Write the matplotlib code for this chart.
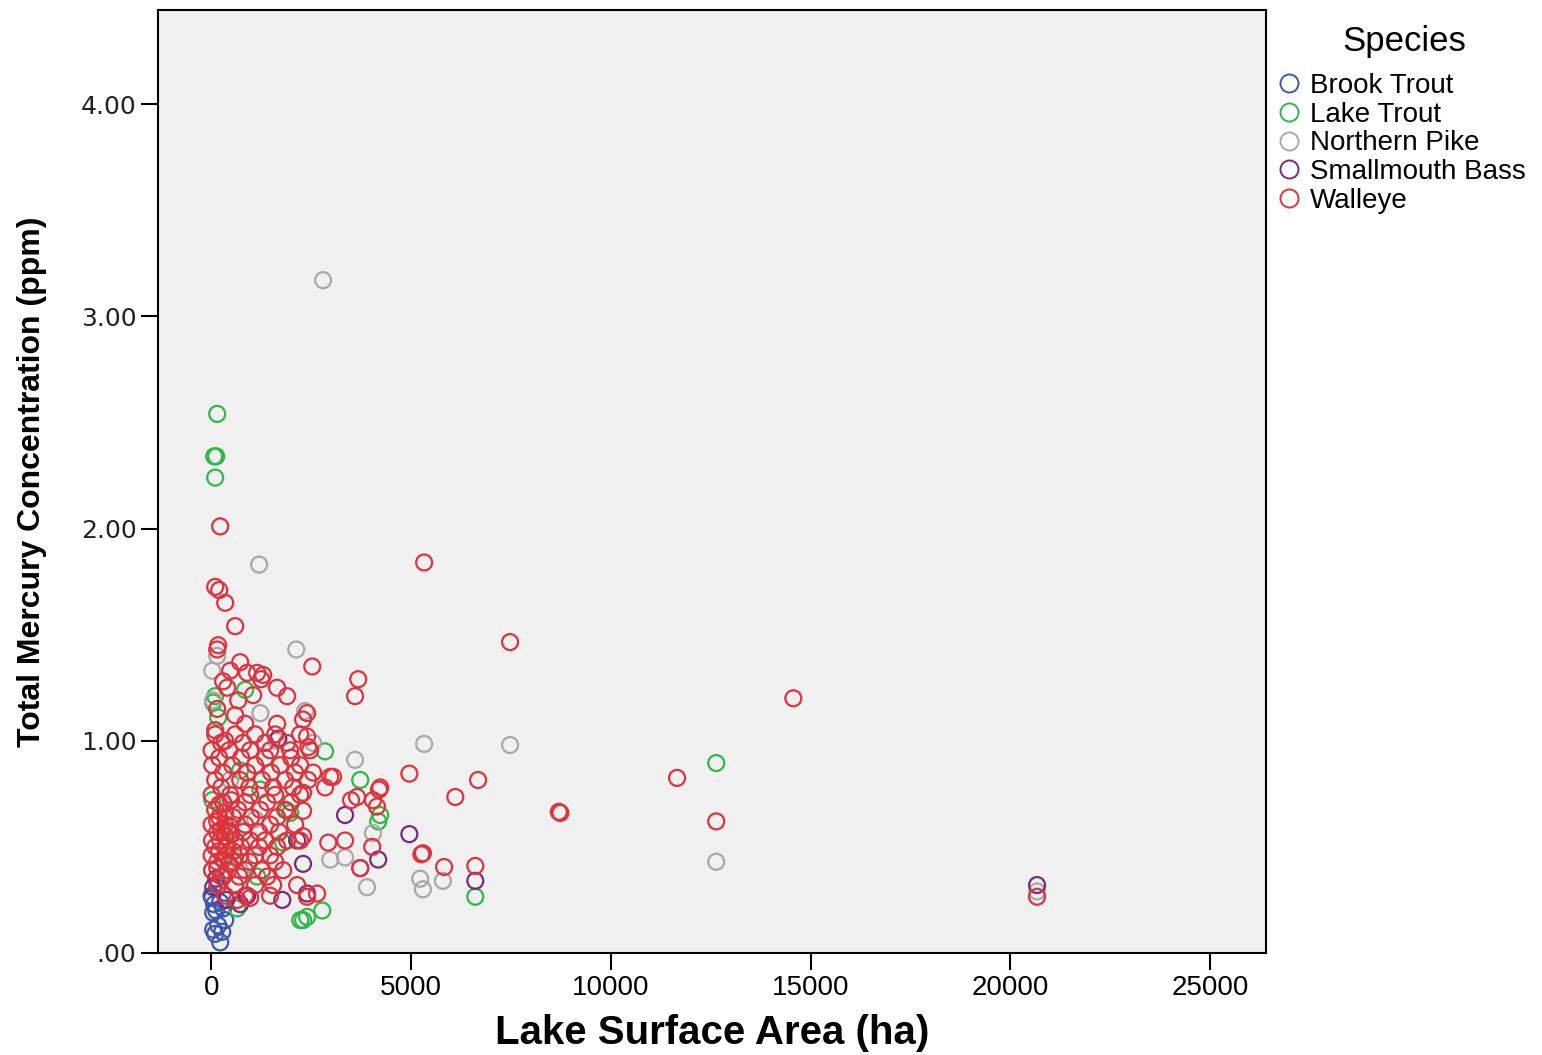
import matplotlib

matplotlib.use("Agg")
import matplotlib.pyplot as plt
from matplotlib.lines import Line2D
from matplotlib.ticker import FuncFormatter

# Lake surface area (ha) and total mercury (ppm)
brook_x = [225, 50, 175, 275, 75, 25, 125, 225, 50, 10, 150, 350, 100, 300]
brook_y = [0.05, 0.11, 0.13, 0.10, 0.23, 0.26, 0.20, 0.24, 0.19, 0.27, 0.31, 0.155, 0.09, 0.21]

lake_x = [150, 125, 75, 100, 12640, 6610, 2780, 2230, 2850, 3730, 4180, 4230, 100, 175,
          850, 2400, 650, 20, 30, 1980, 1800, 725, 1230, 1900, 1150, 2300, 50, 400, 600]
lake_y = [2.54, 2.34, 2.34, 2.24, 0.895, 0.265, 0.20, 0.155, 0.95, 0.815, 0.62, 0.65, 1.21, 1.11,
          1.24, 0.17, 0.21, 0.39, 0.72, 0.66, 0.52, 0.86, 0.77, 0.67, 0.36, 0.155, 1.18, 0.58, 0.45]

pike_x = [2800, 1200, 2130, 5330, 7480, 12640, 5230, 5300, 5800, 20670, 3600, 150, 50, 1230,
          2980, 3350, 3900, 4050, 2350, 1630, 475, 1100, 725, 25, 2550, 300]
pike_y = [3.17, 1.83, 1.43, 0.985, 0.98, 0.43, 0.35, 0.30, 0.34, 0.29, 0.91, 1.40, 1.19, 1.13,
          0.44, 0.45, 0.31, 0.565, 1.14, 1.00, 0.815, 0.63, 0.39, 1.33, 0.99, 0.70]

bass_x = [3350, 4960, 6610, 20670, 4180, 3730, 50, 125, 1680, 2300, 1780, 2400, 725, 375, 900, 2150]
bass_y = [0.65, 0.56, 0.34, 0.32, 0.44, 0.40, 0.31, 0.35, 1.01, 0.42, 0.25, 0.28, 0.23, 0.25, 0.27, 0.53]

walleye_x = [
    225, 100, 200, 350, 600, 175, 150, 5330, 7480, 14570, 11660, 12640, 8740, 8700, 6680, 6110,
    4960, 5260, 5300, 5830, 6610, 2530, 3680, 3600, 4200, 20670,
    2400, 2400, 2430, 2550, 3050, 2980, 2850, 3650, 4050, 4230, 4150, 2300, 2300, 2300, 2930,
    3350, 4030, 3730, 2400, 2650, 3500,
    725, 1150, 900, 475, 300, 1650, 1900, 675, 1050, 2300, 1650, 850, 1250, 1300, 400, 150,
    600, 100, 350,
    100, 600, 1100, 1600, 2225,
    10, 450, 975, 1475, 1975, 2475,
    25, 525, 1100, 1725, 2225,
    100, 725, 1275, 1850, 2425,
    10, 475, 975, 1600, 2225,
    100, 675, 1225, 1850,
    10, 350, 850, 1475, 2100,
    20, 225, 600, 975, 1350, 1900, 2225,
    10, 350, 725, 1100, 1475,
    25, 425, 850, 1275, 1800,
    175, 600, 1100, 1550, 2150,
    350, 850, 1475, 650, 975,
    250, 800, 1350, 1900,
    200, 750, 1350, 2000,
    300, 900, 1500, 2100,
    250, 950, 1550, 2050,
    300, 850, 1400, 2000,
    200, 550, 1000, 1650,
    150, 450, 800, 1200, 1700,
    100, 400, 750, 1200, 1650,
    150, 550, 950, 1600,
    300, 700, 1400,
    150, 250, 350, 450, 200, 300, 400, 500, 150, 250, 450, 550, 200, 350, 500,
]
walleye_y = [
    2.01, 1.725, 1.71, 1.65, 1.54, 1.45, 1.43, 1.84, 1.465, 1.20, 0.825, 0.62, 0.66, 0.665, 0.815, 0.735,
    0.845, 0.465, 0.47, 0.405, 0.41, 1.35, 1.29, 1.21, 0.77, 0.265,
    1.13, 1.02, 0.97, 0.85, 0.83, 0.83, 0.78, 0.735, 0.72, 0.78, 0.69, 0.755, 0.67, 0.55, 0.52,
    0.53, 0.50, 0.40, 0.265, 0.28, 0.72,
    1.37, 1.32, 1.32, 1.33, 1.28, 1.25, 1.21, 1.19, 1.215, 1.10, 1.08, 1.08, 1.29, 1.31, 1.25, 1.15,
    1.12, 1.05, 1.00,
    1.03, 1.03, 1.03, 1.03, 1.03,
    0.955, 0.955, 0.955, 0.955, 0.955, 0.955,
    0.885, 0.885, 0.885, 0.885, 0.885,
    0.815, 0.815, 0.815, 0.815, 0.815,
    0.745, 0.745, 0.745, 0.745, 0.745,
    0.675, 0.675, 0.675, 0.675,
    0.605, 0.605, 0.605, 0.605, 0.605,
    0.53, 0.53, 0.53, 0.53, 0.53, 0.53, 0.53,
    0.46, 0.46, 0.46, 0.46, 0.46,
    0.39, 0.39, 0.39, 0.39, 0.39,
    0.32, 0.32, 0.32, 0.32, 0.32,
    0.27, 0.27, 0.27, 0.25, 0.26,
    0.99, 0.99, 0.99, 0.99,
    0.92, 0.92, 0.92, 0.92,
    0.85, 0.85, 0.85, 0.85,
    0.78, 0.78, 0.78, 0.78,
    0.71, 0.71, 0.71, 0.71,
    0.64, 0.64, 0.64, 0.64,
    0.57, 0.57, 0.57, 0.57, 0.57,
    0.50, 0.50, 0.50, 0.50, 0.50,
    0.43, 0.43, 0.43, 0.43,
    0.36, 0.36, 0.36,
    0.62, 0.58, 0.55, 0.60, 0.48, 0.44, 0.50, 0.56, 0.40, 0.36, 0.42, 0.48, 0.70, 0.66, 0.72,
]

species = ["Brook Trout", "Lake Trout", "Northern Pike", "Smallmouth Bass", "Walleye"]
series = [(brook_x, brook_y), (lake_x, lake_y), (pike_x, pike_y),
          (bass_x, bass_y), (walleye_x, walleye_y)]
colors = ["#3E58AC", "#2EB848", "#A8A8A8", "#7C287D", "#E0323C"]

fig = plt.figure(figsize=(15.42, 10.55), dpi=100)
ax = fig.add_axes([0.1025, 0.0967, 0.7185, 0.8938])
ax.set_facecolor("#F0F0F0")

for (xs, ys), color in zip(series, colors):
    ax.scatter(xs, ys, s=11.5 ** 2, facecolors="none", edgecolors=color, linewidths=1.6)

ax.set_xlim(-1330, 26400)
ax.set_ylim(0, 4.443)
ax.set_xticks(range(0, 25001, 5000))
ax.set_yticks([0, 1, 2, 3, 4])
ax.yaxis.set_major_formatter(FuncFormatter(lambda v, p: ".00" if v == 0 else f"{v:.2f}"))

for side in ["left", "bottom", "right", "top"]:
    ax.spines[side].set_linewidth(1.5)
    ax.spines[side].set_color("black")

ax.tick_params(axis="both", direction="out", length=12, width=1.5, color="black")
for lab in ax.get_xticklabels():
    lab.set_fontfamily("Liberation Sans")
    lab.set_fontsize(20)
for lab in ax.get_yticklabels():
    lab.set_fontfamily("DejaVu Sans")
    lab.set_fontsize(18)
    lab.set_color("#222222")

ax.set_xlabel("Lake Surface Area (ha)", fontfamily="Liberation Sans", fontweight="bold",
              fontsize=29, labelpad=10)
ax.set_ylabel("Total Mercury Concentration (ppm)", fontfamily="Liberation Sans",
              fontweight="bold", fontsize=23, labelpad=24)

# legend title drawn separately to get the wider gap seen in the reference
fig.text(0.911, 1 - 41 / 1055, "Species", ha="center", va="center",
         fontfamily="Liberation Sans", fontsize=25)
handles = [Line2D([], [], linestyle="none", marker="o", markersize=13, markerfacecolor="none",
                  markeredgecolor=c, markeredgewidth=1.4) for c in colors]
fig.legend(handles, species, loc="upper left", bbox_to_anchor=(0.827, 0.931),
           frameon=False, handletextpad=0.25, labelspacing=0.1,
           handlelength=1.0, borderaxespad=0, borderpad=0,
           prop={"family": "Liberation Sans", "size": 20})

fig.savefig("out.png", dpi=100)
